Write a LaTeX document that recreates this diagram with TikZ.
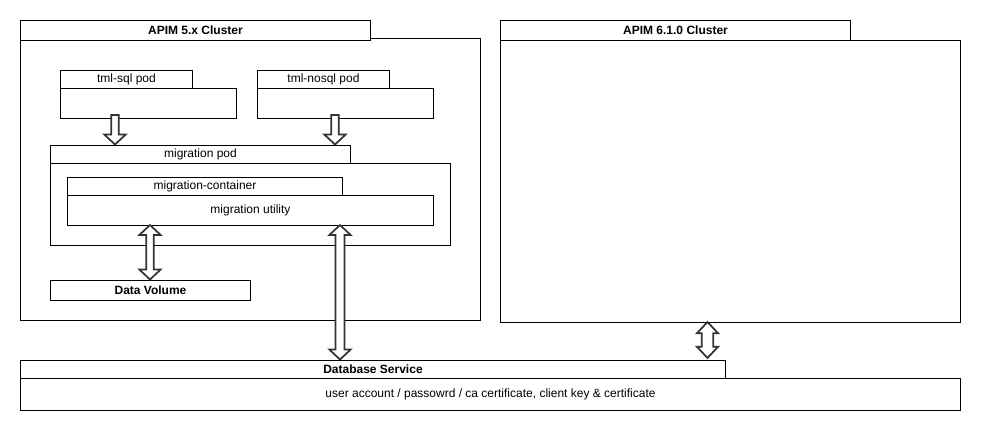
\documentclass[tikz,border=0pt]{standalone}
\usepackage{fontspec}
\setmainfont{Liberation Sans}
\definecolor{arrowgray}{RGB}{51,51,51}
\def\px{0.75pt}
\tikzset{
  box/.style={draw=black, fill=white, line width=0.8pt, inner sep=0pt, font=\fontsize{9}{11}\selectfont},
  boldbox/.style={box, font=\fontsize{9}{11}\selectfont\bfseries},
  flowarrow/.style={draw=arrowgray, fill=white, line width=1.3pt, to path={
    ([xshift=-2.8pt]\tikztostart) -- ([xshift=-2.8pt, yshift=7.5pt]\tikztotarget) -- ([xshift=-8pt, yshift=7.5pt]\tikztotarget)
    -- (\tikztotarget)
    -- ([xshift=8pt, yshift=7.5pt]\tikztotarget) -- ([xshift=2.8pt, yshift=7.5pt]\tikztotarget) -- ([xshift=2.8pt]\tikztostart) -- cycle}},
  syncarrow/.style n args={2}{draw=arrowgray, fill=white, line width=1.3pt, to path={
    (\tikztostart) -- ([xshift=-8pt, yshift=-#2]\tikztostart) -- ([xshift=-#1, yshift=-#2]\tikztostart)
    -- ([xshift=-#1, yshift=#2]\tikztotarget) -- ([xshift=-8pt, yshift=#2]\tikztotarget)
    -- (\tikztotarget)
    -- ([xshift=8pt, yshift=#2]\tikztotarget) -- ([xshift=#1, yshift=#2]\tikztotarget)
    -- ([xshift=#1, yshift=-#2]\tikztostart) -- ([xshift=8pt, yshift=-#2]\tikztostart) -- cycle}},
}
\begin{document}
\begin{tikzpicture}[x=0.75pt, y=-0.75pt]
\useasboundingbox (0,0) rectangle (988,436);

%old cluster
\node[box, minimum width=460*\px, minimum height=282*\px] (oldcluster) at (250.5,179.5) {};
\node[boldbox, minimum width=350*\px, minimum height=20*\px] (oldtitle) at (195.5,30.5) {APIM 5.x Cluster};

%tml pods
\node[box, minimum width=176*\px, minimum height=30*\px] (sqlbody) at (148.5,103.5) {};
\node[box, minimum width=132*\px, minimum height=18*\px] (sqltitle) at (126.5,79.5) {tml-sql pod};
\node[box, minimum width=176*\px, minimum height=30*\px] (nosqlbody) at (345.5,103.5) {};
\node[box, minimum width=132*\px, minimum height=18*\px] (nosqltitle) at (323.5,79.5) {tml-nosql pod};

%migration pod
\node[box, minimum width=400*\px, minimum height=82*\px] (podbody) at (250.5,204.5) {};
\node[box, minimum width=300*\px, minimum height=18*\px] (podtitle) at (200.5,154.5) {migration pod};
\node[box, minimum width=275*\px, minimum height=18*\px] (containertitle) at (205,186.5) {migration-container};
\node[box, minimum width=366*\px, minimum height=30*\px] (utility) at (250.5,210.5) {migration utility};

\node[boldbox, minimum width=200*\px, minimum height=20*\px] (volume) at (150.5,290.5) {Data Volume};

%new cluster
\node[box, minimum width=460*\px, minimum height=282*\px] (newcluster) at (730.5,181.5) {};
\node[boldbox, minimum width=350*\px, minimum height=20*\px] (newtitle) at (675.5,30.5) {APIM 6.1.0 Cluster};

%database
\node[box, minimum width=940*\px, minimum height=32*\px] (dbbody) at (490.5,394.5) {user account / passowrd / ca certificate, client key \& certificate};
\node[boldbox, minimum width=705*\px, minimum height=18*\px] (dbtitle) at (373,369.5) {Database Service};

%arrow ends
\coordinate (sqlout) at (115,115);
\coordinate (sqlin) at (115,144.5);
\coordinate (nosqlout) at (335,115);
\coordinate (nosqlin) at (335,144.5);
\coordinate (utilvol) at (150,225);
\coordinate (volutil) at (150,279.5);
\coordinate (utildb) at (340,225);
\coordinate (dbutil) at (340,359.5);
\coordinate (newdb) at (707.5,322);
\coordinate (dbnew) at (707.5,358);

\draw[flowarrow] (sqlout) to (sqlin);
\draw[flowarrow] (nosqlout) to (nosqlin);
\draw[syncarrow={2.8pt}{7.5pt}] (utilvol) to (volutil);
\draw[syncarrow={3.3pt}{7.5pt}] (utildb) to (dbutil);
\draw[syncarrow={4.3pt}{8.5pt}] (newdb) to (dbnew);

\end{tikzpicture}
\end{document}
